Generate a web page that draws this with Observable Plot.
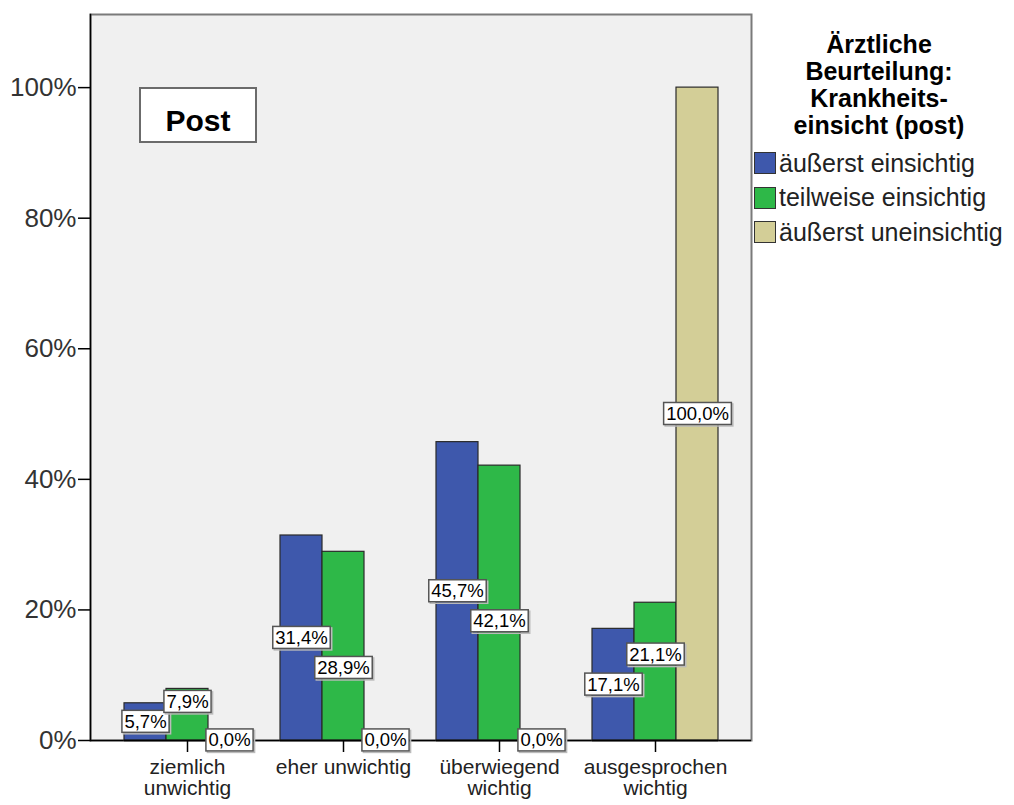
<!DOCTYPE html>
<html><head><meta charset="utf-8">
<script src="https://cdn.jsdelivr.net/npm/d3@7"></script>
<script src="https://cdn.jsdelivr.net/npm/@observablehq/plot@0.6"></script>
<style>
body{margin:0;background:#fff;font-family:Arial,"Liberation Sans",sans-serif;}
#wrap{position:relative;width:1014px;height:805px;}
#wrap svg{position:absolute;left:0;top:0;}
#legend{position:absolute;left:752px;top:31px;width:254px;color:#000;}
#legend .ltitle{font-weight:bold;font-size:25px;line-height:27px;text-align:center;}
#legend .items{margin-top:7px;}
#legend .item{display:flex;align-items:center;height:34.5px;font-size:25px;white-space:nowrap;color:#222;}
#legend .sw{width:20px;height:20px;border:1px solid #333;margin-left:2px;margin-right:3px;flex:none;}
#panel{position:absolute;left:139px;top:87px;width:118px;height:56px;box-sizing:border-box;border:2px solid #6b6b6b;background:#fff;font-weight:bold;font-size:30px;line-height:34px;padding-top:15px;text-align:center;color:#000;}
</style></head><body><div id="wrap"></div>
<script>
const categories = ["ziemlich unwichtig", "eher unwichtig", "überwiegend wichtig", "ausgesprochen wichtig"];
const categoryLabels = ["ziemlich\nunwichtig", "eher unwichtig", "überwiegend\nwichtig", "ausgesprochen\nwichtig"];
const seriesNames = ["äußerst einsichtig", "teilweise einsichtig", "äußerst uneinsichtig"];
const seriesColors = ["#3E58AC", "#2EB848", "#D3CE97"];
const valuesEinsichtig = [5.7, 31.4, 45.7, 17.1];
const valuesTeilweise = [7.9, 28.9, 42.1, 21.1];
const valuesUneinsichtig = [0.0, 0.0, 0.0, 100.0];
const yTicks = [0, 20, 40, 60, 80, 100];
const legendTitle = ["Ärztliche", "Beurteilung:", "Krankheits-", "einsicht (post)"];
const panelLabel = "Post";

const seriesValues = [valuesEinsichtig, valuesTeilweise, valuesUneinsichtig];
const data = [];
categories.forEach((c, i) => seriesNames.forEach((s, j) => data.push({cat: c, series: s, value: seriesValues[j][i]})));

// value labels sit at the middle of each bar; the second label is nudged away when it would collide
const nudge = 4.6;
data.forEach(d => d.labelY = d.value / 2);
categories.forEach(c => {
  const [a, b] = data.filter(d => d.cat === c);
  if (Math.abs(b.labelY - a.labelY) < nudge) {
    if (b.labelY >= a.labelY) b.labelY = Math.min(a.labelY + nudge, b.value - 2.0);
    else b.labelY = a.labelY - nudge;
  }
});
const fmt = v => v.toFixed(1).replace(".", ",") + "%";

// shared layout so both layers get identical scales
const layout = {
  width: 1014, height: 805,
  marginLeft: 90, marginRight: 263, marginTop: 14, marginBottom: 65,
  style: {fontFamily: "Arial, 'Liberation Sans', sans-serif", background: "transparent", overflow: "visible"},
  y: {domain: [0, 111.2], label: null, axis: null}
};
const catPad = {paddingInner: 0.195, paddingOuter: 0.211};

// background layer: plot area, y axis, category axis
const back = Plot.plot({
  ...layout,
  x: {type: "band", domain: categories, ...catPad, label: null, axis: null},
  marks: [
    Plot.frame({fill: "#F0F0F0", stroke: "#7a7a7a", strokeWidth: 2}),
    Plot.frame({anchor: "left", stroke: "#000", strokeWidth: 1.5}),
    Plot.ruleY([0], {stroke: "#000", strokeWidth: 1.5}),
    Plot.axisY({ticks: yTicks, tickFormat: d => d + "%", tickSize: 12, tickPadding: 2, fontSize: 26, fill: "#333", stroke: "#000", strokeWidth: 1.5, label: null}),
    Plot.axisX({anchor: "bottom", tickSize: 12, tickPadding: 7, fontSize: 21, lineHeight: 1, fill: "#222", stroke: "#000", strokeWidth: 1.5, label: null,
      tickFormat: c => categoryLabels[categories.indexOf(c)]})
  ]
});

// foreground layer: grouped bars (facet per category) and value labels
const front = Plot.plot({
  ...layout,
  fx: {domain: categories, ...catPad, label: null, axis: null},
  x: {domain: seriesNames, padding: 0, axis: null},
  color: {domain: seriesNames, range: seriesColors},
  marks: [
    Plot.barY(data, {fx: "cat", x: "series", y: "value", fill: "series", stroke: "#2a2a2a", strokeWidth: 1.2}),
    Plot.ruleY([0], {stroke: "#000", strokeWidth: 1.5}),
    Plot.text(data, {fx: "cat", x: "series", y: "labelY", text: d => fmt(d.value), fontSize: 18.5, fill: "#000"})
  ]
});

const wrap = document.getElementById("wrap");
wrap.appendChild(back);
wrap.appendChild(front);

// white boxes behind value labels
const ns = "http://www.w3.org/2000/svg";
front.querySelectorAll('g[aria-label="text"] text').forEach(t => {
  const bb = t.getBBox();
  const tr = t.getAttribute("transform");
  const bx = bb.x - 2.5, by = bb.y - 0.5, bw = bb.width + 5, bh = bb.height + 1;
  const shadow = document.createElementNS(ns, "rect");
  shadow.setAttribute("x", bx + 1.5); shadow.setAttribute("y", by + 1.5);
  shadow.setAttribute("width", bw); shadow.setAttribute("height", bh);
  shadow.setAttribute("fill", "none"); shadow.setAttribute("stroke", "#bbb"); shadow.setAttribute("stroke-width", 1.5);
  const r = document.createElementNS(ns, "rect");
  r.setAttribute("x", bx); r.setAttribute("y", by);
  r.setAttribute("width", bw); r.setAttribute("height", bh);
  r.setAttribute("fill", "#fff"); r.setAttribute("stroke", "#555"); r.setAttribute("stroke-width", 1.5);
  if (tr) { r.setAttribute("transform", tr); shadow.setAttribute("transform", tr); }
  t.parentNode.insertBefore(shadow, t);
  t.parentNode.insertBefore(r, t);
});

// panel label
const panel = document.createElement("div");
panel.id = "panel";
panel.textContent = panelLabel;
wrap.appendChild(panel);

// legend
const legend = document.createElement("div");
legend.id = "legend";
const lt = document.createElement("div");
lt.className = "ltitle";
legendTitle.forEach((line, i) => { if (i) lt.appendChild(document.createElement("br")); lt.appendChild(document.createTextNode(line)); });
legend.appendChild(lt);
const items = document.createElement("div");
items.className = "items";
seriesNames.forEach((s, i) => {
  const it = document.createElement("div"); it.className = "item";
  const sw = document.createElement("span"); sw.className = "sw"; sw.style.background = seriesColors[i];
  it.appendChild(sw); it.appendChild(document.createTextNode(s));
  items.appendChild(it);
});
legend.appendChild(items);
wrap.appendChild(legend);
</script>
</body></html>
